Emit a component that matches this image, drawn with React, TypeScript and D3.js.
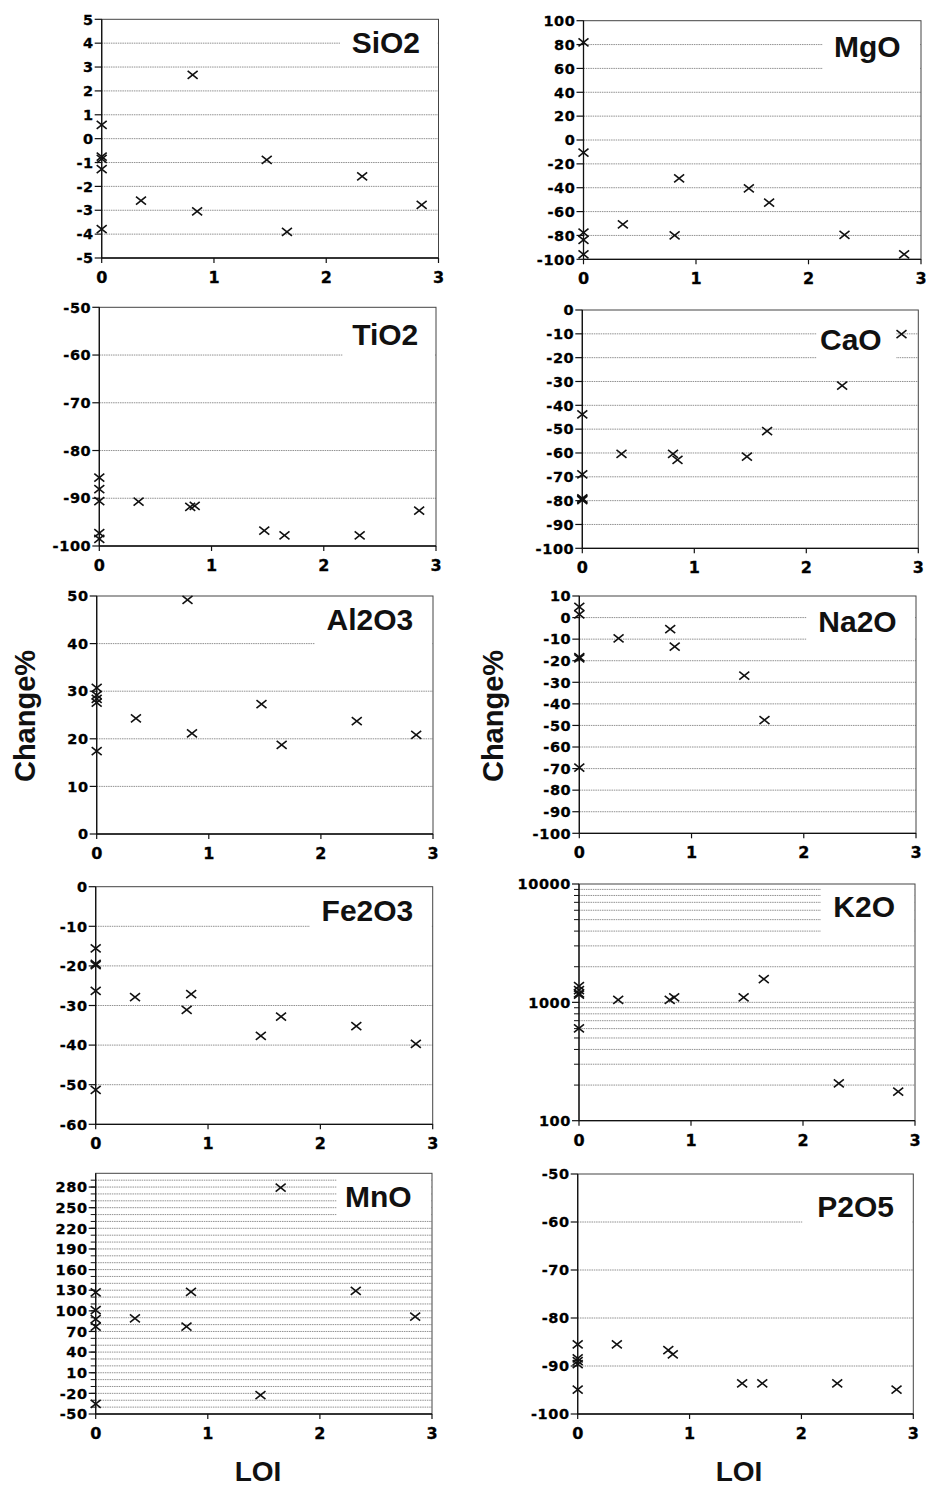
import React from "react";
import * as d3 from "d3";

// ---- data (LOI shared by all oxides) ----
const LOI = [0, 0, 0, 0, 0, 0.35, 0.81, 0.85, 1.47, 1.65, 2.32, 2.85];
const SiO2 = [0.58, -0.75, -0.85, -1.28, -3.79, -2.6, 2.67, -3.05, -0.89, -3.91, -1.58, -2.77];
const MgO = [81.8, -10.6, -77.7, -83.8, -95.8, -70.7, -79.9, -32.1, -40.5, -52.5, -79.6, -95.8];
const TiO2 = [-85.7, -88.1, -90.6, -97.3, -98.5, -90.7, -91.8, -91.6, -96.8, -97.8, -97.8, -92.6];
const CaO = [-43.8, -69, -79.0, -79.4, -79.8, -60.4, -60.4, -62.9, -61.5, -50.8, -31.7, -10.1];
const Al2O3 = [30.7, 29.2, 28.4, 27.6, 17.4, 24.3, 49.2, 21.15, 27.3, 18.7, 23.7, 20.8];
const Na2O = [5.0, 1.5, -18.3, -18.9, -69.6, -9.6, -5.3, -13.5, -26.9, -47.5, null, null];
const Fe2O3 = [-15.6, -19.5, -19.8, -26.3, -51.3, -27.9, -31.1, -27.1, -37.7, -32.8, -35.2, -39.7];
const K2O = [1370, 1270, 1190, 1160, 604, 1047, 1047, 1101, 1101, 1575, 207, 176];
const MnO = [126.7, 101, 88, 77, -35.4, 89.2, 77, 127.7, -22.7, 279, 129.1, 91.6];
const P2O5 = [-85.5, -88.4, -89.0, -89.6, -94.9, -85.5, -86.7, -87.6, -93.6, -93.6, -93.6, -94.9];

// ---- tick labels ----
const X_TICKS = [0, 1, 2, 3];
const SIO2_TICKS = [-5, -4, -3, -2, -1, 0, 1, 2, 3, 4, 5];
const MGO_TICKS = [-100, -80, -60, -40, -20, 0, 20, 40, 60, 80, 100];
const TIO2_TICKS = [-100, -90, -80, -70, -60, -50];
const CAO_TICKS = [-100, -90, -80, -70, -60, -50, -40, -30, -20, -10, 0];
const AL2O3_TICKS = [0, 10, 20, 30, 40, 50];
const NA2O_TICKS = [-100, -90, -80, -70, -60, -50, -40, -30, -20, -10, 0, 10];
const FE2O3_TICKS = [-60, -50, -40, -30, -20, -10, 0];
const K2O_TICKS = [100, 1000, 10000];
const K2O_MINOR = [200, 300, 400, 500, 600, 700, 800, 900, 2000, 3000, 4000, 5000, 6000, 7000, 8000, 9000];
const MNO_TICKS = [-50, -20, 10, 40, 70, 100, 130, 160, 190, 220, 250, 280];
const MNO_MINOR = d3.range(-40, 300, 10);
const P2O5_TICKS = [-100, -90, -80, -70, -60, -50];

// ---- layout (pixels) ----
const PANELS = [
  { name: "SiO2", values: SiO2, ticks: SIO2_TICKS, domain: [-5, 5], left: 101.7, right: 438.5, top: 19.3, bottom: 258, tx: 420, ty: 52.7, bx: 340, bb: 59 },
  { name: "MgO", values: MgO, ticks: MGO_TICKS, domain: [-100, 100], left: 583.5, right: 921, top: 20.7, bottom: 259.3, tx: 900.7, ty: 56.7, bx: 822.7, bb: 79 },
  { name: "TiO2", values: TiO2, ticks: TIO2_TICKS, domain: [-100, -50], left: 99.3, right: 436, top: 307.3, bottom: 546, tx: 418.3, ty: 345, bx: 343, bb: 362 },
  { name: "CaO", values: CaO, ticks: CAO_TICKS, domain: [-100, 0], left: 582.3, right: 918.3, top: 310, bottom: 548.3, tx: 881.7, ty: 350, bx: 816.7, bb: 368, br: 896 },
  { name: "Al2O3", values: Al2O3, ticks: AL2O3_TICKS, domain: [0, 50], left: 96.7, right: 433, top: 596, bottom: 834, tx: 413.3, ty: 630, bx: 315, bb: 654 },
  { name: "Na2O", values: Na2O, ticks: NA2O_TICKS, domain: [-100, 10], left: 579.3, right: 916, top: 596, bottom: 833.3, tx: 896.7, ty: 631.7, bx: 806.7, bb: 648 },
  { name: "Fe2O3", values: Fe2O3, ticks: FE2O3_TICKS, domain: [-60, 0], left: 95.7, right: 432.7, top: 886.7, bottom: 1124.3, tx: 413.3, ty: 920.7, bx: 310, bb: 942 },
  { name: "K2O", values: K2O, ticks: K2O_TICKS, minor: K2O_MINOR, log: true, domain: [100, 10000], left: 579, right: 915, top: 884, bottom: 1120.7, tx: 895, ty: 916.7, bx: 821, bb: 936 },
  { name: "MnO", values: MnO, ticks: MNO_TICKS, minor: MNO_MINOR, domain: [-50, 300], left: 95.7, right: 432, top: 1173.3, bottom: 1414, tx: 411.7, ty: 1206.7, bx: 336.7, bb: 1218 },
  { name: "P2O5", values: P2O5, ticks: P2O5_TICKS, domain: [-100, -50], left: 577.7, right: 913.3, top: 1174, bottom: 1414, tx: 894, ty: 1216.7, bx: 802.7, bb: 1234 },
];

const TICK_FONT = "'DejaVu Sans', sans-serif";
const TITLE_FONT = "'Liberation Sans', Arial, sans-serif";

function Panel({ p }: { p: any }) {
  const x = d3.scaleLinear().domain([0, 3]).range([p.left, p.right]);
  const y = p.log
    ? d3.scaleLog().domain(p.domain).range([p.bottom, p.top])
    : d3.scaleLinear().domain(p.domain).range([p.bottom, p.top]);
  const [d0, d1] = p.domain;
  const gridVals = Array.from(new Set([...(p.ticks as number[]), ...((p.minor || []) as number[])])).filter(
    (v) => v > d0 && v < d1
  );
  const pts = LOI.map((l, i) => ({ l, v: p.values[i] })).filter((d) => d.v !== null && d.v !== undefined);
  const boxRight = p.br !== undefined ? p.br : p.right - 1;
  return (
    <g>
      {gridVals.map((v) => (
        <line
          key={"g" + v}
          x1={p.left}
          x2={p.right}
          y1={y(v)}
          y2={y(v)}
          stroke="#858585"
          strokeWidth={0.9}
          strokeDasharray="1.5 0.8"
        />
      ))}
      <rect x={p.bx} y={p.top + 1} width={boxRight - p.bx} height={p.bb - p.top - 1} fill="#fff" />
      <text
        x={p.tx}
        y={p.ty}
        textAnchor="end"
        fontFamily={TITLE_FONT}
        fontWeight="bold"
        fontSize={30}
        fill="#111"
      >
        {p.name}
      </text>
      {/* frame */}
      <rect x={p.left} y={p.top} width={p.right - p.left} height={p.bottom - p.top} fill="none" stroke="#444" strokeWidth={1} />
      <line x1={p.left} x2={p.left} y1={p.top} y2={p.bottom} stroke="#111" strokeWidth={1.3} />
      <line x1={p.left} x2={p.right} y1={p.bottom} y2={p.bottom} stroke="#111" strokeWidth={1.3} />
      {/* minor ticks */}
      {(p.minor || []).map((v: number) => (
        <line key={"m" + v} x1={p.left - 5} x2={p.left} y1={y(v)} y2={y(v)} stroke="#111" strokeWidth={1} />
      ))}
      {/* major y ticks and labels */}
      {p.ticks.map((v: number) => (
        <g key={"t" + v}>
          <line x1={p.left - 7} x2={p.left} y1={y(v)} y2={y(v)} stroke="#111" strokeWidth={1.2} />
          <text
            x={p.left - 8}
            y={y(v)}
            dy="0.36em"
            textAnchor="end"
            fontFamily={TICK_FONT}
            fontWeight="bold"
            fontSize={14.5}
            letterSpacing={0.6}
            fill="#000"
            stroke="#000"
            strokeWidth={0.3}
          >
            {String(v)}
          </text>
        </g>
      ))}
      {/* x ticks */}
      {X_TICKS.map((v) => (
        <g key={"x" + v}>
          <line x1={x(v)} x2={x(v)} y1={p.bottom} y2={p.bottom + 5} stroke="#111" strokeWidth={1.2} />
          <text
            x={x(v)}
            y={p.bottom + 25}
            textAnchor="middle"
            fontFamily={TICK_FONT}
            fontWeight="bold"
            fontSize={16}
            fill="#000"
            stroke="#000"
            strokeWidth={0.3}
          >
            {String(v)}
          </text>
        </g>
      ))}
      {/* points */}
      {pts.map((d, i) => (
        <path
          key={"p" + i}
          transform={`translate(${x(d.l)},${y(d.v)})`}
          d="M-5,-4L5,4M-5,4L5,-4"
          stroke="#111"
          strokeWidth={1.6}
          fill="none"
        />
      ))}
    </g>
  );
}

export default function App() {
  return (
    <svg
      width={926}
      height={1489}
      style={{ position: "absolute", left: 0, top: 0, background: "#fff" }}
    >
      <rect x={0} y={0} width={926} height={1489} fill="#fff" />
      {PANELS.map((p) => (
        <Panel key={p.name} p={p} />
      ))}
      <text
        transform="translate(35,716) rotate(-90)"
        textAnchor="middle"
        fontFamily={TITLE_FONT}
        fontWeight="bold"
        fontSize={29}
        fill="#111"
      >
        Change%
      </text>
      <text
        transform="translate(503,716) rotate(-90)"
        textAnchor="middle"
        fontFamily={TITLE_FONT}
        fontWeight="bold"
        fontSize={29}
        fill="#111"
      >
        Change%
      </text>
      <text x={258} y={1481} textAnchor="middle" fontFamily={TITLE_FONT} fontWeight="bold" fontSize={28} fill="#111">
        LOI
      </text>
      <text x={739} y={1481} textAnchor="middle" fontFamily={TITLE_FONT} fontWeight="bold" fontSize={28} fill="#111">
        LOI
      </text>
    </svg>
  );
}
